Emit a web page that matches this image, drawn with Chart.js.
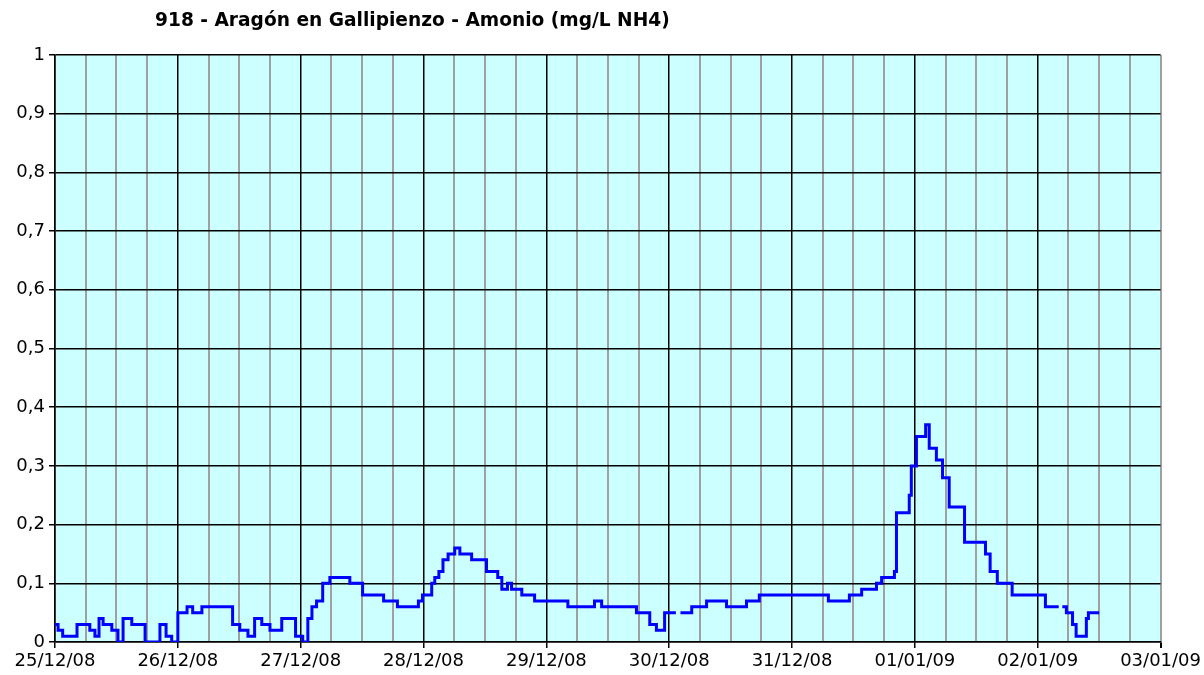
<!DOCTYPE html>
<html>
<head>
<meta charset="utf-8">
<script src="https://cdn.jsdelivr.net/npm/chart.js@4"></script>
<style>
  body { margin: 0; background: #fff; }
  #wrap { position: relative; width: 1204px; height: 675px; }
  #titulo {
    position: absolute; left: 155px; top: 9px;
    font-family: "DejaVu Sans", sans-serif; font-size: 18.6px; font-weight: bold; color: #000;
  }
</style>
</head>
<body>
<div id="wrap">
  <div id="titulo">918 - Aragón en Gallipienzo - Amonio (mg/L NH4)</div>
  <canvas id="grafico" width="1204" height="675"></canvas>
</div>
<script>
  // horas desde 25/12/08 00:00, valor vigente desde esa hora (escalonado)
  const horas = [
    0, 0.6, 1.5, 4.3, 6.8, 7.8, 8.6, 9.4, 11.1, 12.3, 13.3, 15.0, 17.6, 20.5, 21.7, 22.8,
    24.0, 25.8, 26.9, 28.7, 34.7, 36.1, 37.7, 39.0, 40.4, 42.0, 44.3, 47.0,
    48.4, 49.4, 50.2, 51.1, 52.3, 53.7, 57.6, 60.1, 64.2, 66.9, 71.0,
    71.8, 73.6, 74.2, 75.0, 75.8, 76.8, 78.1, 79.1, 81.4, 84.3, 86.5, 87.3, 88.4, 89.2, 91.2, 93.7,
    100.2, 105.4, 106.8, 113.6, 116.2, 117.5, 119.1, 121.3, 121.4, 122.2, 124.4, 127.3, 131.2, 135.1, 137.6,
    151.1, 155.2, 157.6, 160.5, 161.5, 164.0, 164.4, 166.9, 167.3, 168.3, 170.1, 170.8, 172.2, 173.4, 174.7,
    177.7, 181.8, 182.7, 184.1, 187.0, 193.5, 196.1, 196.2, 196.8, 197.6, 198.8, 199.5, 201.5, 201.9, 204.0
  ];
  const amonio = [
    0.03, 0.02, 0.01, 0.03, 0.02, 0.01, 0.04, 0.03, 0.02, 0, 0.04, 0.03, 0, 0.03, 0.01, 0,
    0.05, 0.06, 0.05, 0.06, 0.03, 0.02, 0.01, 0.04, 0.03, 0.02, 0.04, 0.01,
    0, 0.04, 0.06, 0.07, 0.10, 0.11, 0.10, 0.08, 0.07, 0.06, 0.07,
    0.08, 0.10, 0.11, 0.12, 0.14, 0.15, 0.16, 0.15, 0.14, 0.12, 0.11, 0.09, 0.10, 0.09, 0.08, 0.07,
    0.06, 0.07, 0.06, 0.05, 0.03, 0.02, 0.05, 0.05, null, 0.05, 0.06, 0.07, 0.06, 0.07, 0.08,
    0.07, 0.08, 0.09, 0.10, 0.11, 0.12, 0.22, 0.25, 0.30, 0.35, 0.37, 0.33, 0.31, 0.28, 0.23,
    0.17, 0.15, 0.12, 0.10, 0.08, 0.06, 0.06, null, 0.06, 0.05, 0.03, 0.01, 0.04, 0.05, 0.05
  ];
  const fechas = ["25/12/08", "26/12/08", "27/12/08", "28/12/08", "29/12/08",
                  "30/12/08", "31/12/08", "01/01/09", "02/01/09", "03/01/09"];

  const fondo = {
    id: "fondo",
    beforeDraw(chart) {
      const a = chart.chartArea;
      chart.ctx.save();
      chart.ctx.fillStyle = "#CCFFFF";
      chart.ctx.fillRect(a.left, a.top, a.right - a.left, a.bottom - a.top);
      chart.ctx.restore();
    },
  };

  Chart.defaults.font.family = "'DejaVu Sans', sans-serif";
  Chart.defaults.font.size = 18;
  Chart.defaults.color = "#000";

  const esDia = (c) => c.tick && c.tick.value % 24 === 0;
  const esNegra = (c) => esDia(c) && c.tick.value !== 216;

  const ctx = document.getElementById("grafico");

  var grafico = new Chart(ctx, {
    type: "line",
    data: {
      datasets: [
        {
          label: "Amonio",
          data: horas.map((h, i) => ({ x: h, y: amonio[i] })),
          borderColor: "#0000FF",
          borderWidth: 3,
          pointRadius: 0,
          stepped: true,
          spanGaps: false,
        },
      ],
    },
    options: {
      responsive: false,
      animation: false,
      layout: { padding: { top: 55, right: 43, left: 0, bottom: 0 } },
      plugins: {
        legend: { display: false },
        tooltip: { enabled: false },
      },
      scales: {
        x: {
          type: "linear",
          min: 0,
          max: 216,
          afterFit: (s) => { s.height = 33; },
          ticks: {
            stepSize: 6,
            autoSkip: false,
            maxRotation: 0,
            padding: 3,
            callback: (v) => (v % 24 === 0 ? fechas[v / 24] : ""),
          },
          grid: {
            color: (c) => (esNegra(c) ? "#000000" : "#A0A0A0"),
            lineWidth: (c) => (esNegra(c) ? 1.5 : 2),
            tickColor: (c) => (esDia(c) ? "#000" : "rgba(0,0,0,0)"),
            tickLength: 6,
          },
          border: { color: "#000", width: 1.5 },
        },
        y: {
          min: 0,
          max: 1,
          afterFit: (s) => { s.width = 55; },
          ticks: {
            stepSize: 0.1,
            padding: 4,
            callback: (v) => (v === 0 || v === 1 ? String(v) : v.toFixed(1).replace(".", ",")),
          },
          grid: { color: "#000", lineWidth: 1.5, tickColor: "#000", tickLength: 6 },
          border: { color: "#000", width: 1.5 },
        },
      },
    },
    plugins: [fondo],
  });
</script>
</body>
</html>
